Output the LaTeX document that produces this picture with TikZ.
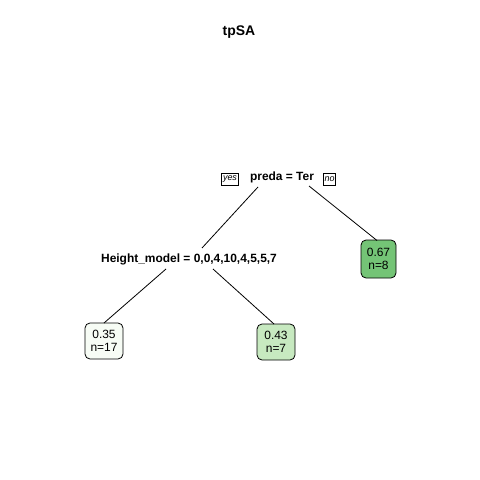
\documentclass[tikz,border=0pt]{standalone}
\usepackage{fontspec}
\setmainfont{Liberation Sans}
\definecolor{leafA}{RGB}{247,252,245}
\definecolor{leafB}{RGB}{199,233,192}
\definecolor{leafC}{RGB}{116,196,118}
\begin{document}
\begin{tikzpicture}[x=1bp,y=-1bp,line width=0.8bp,
  splitlab/.style={inner sep=0pt,font=\fontsize{12}{14}\selectfont\bfseries},
  leafbox/.style={draw,rounded corners=5bp,inner sep=0pt,align=center,
    font=\fontsize{12}{13.5}\selectfont},
  yesno/.style={draw,inner sep=1.2bp,minimum height=12bp,font=\fontsize{9}{10}\selectfont\itshape},
  branch/.style={line width=0.8bp}]
\useasboundingbox (0,0) rectangle (480,480);
\node[font=\fontsize{14}{16}\selectfont\bfseries] (title) at (239,32) {tpSA};
% root
\node[splitlab] (root) at (282,177) {preda = Ter};
\node[yesno] (yes) at (230,179.5) {yes};
\node[yesno] (no) at (329.5,179.5) {no};
% second split
\node[splitlab] (hm) at (189,259) {Height\_model = 0,0,4,10,4,5,5,7};
% leaves
\node[leafbox,fill=leafA,minimum width=38bp,minimum height=36bp] (l1) at (104,341) {0.35\\n=17};
\node[leafbox,fill=leafB,minimum width=38bp,minimum height=36bp] (l2) at (276,342) {0.43\\n=7};
\node[leafbox,fill=leafC,minimum width=35bp,minimum height=38bp] (l3) at (378.5,259) {0.67\\n=8};
% connector end points
\coordinate (rootL) at (258,187);
\coordinate (rootR) at (309,186);
\coordinate (hmTop) at (202,248);
\coordinate (l3Top) at (377,240.5);
\coordinate (hmL) at (166,269);
\coordinate (hmR) at (213,269);
\coordinate (l1Top) at (104,323);
\coordinate (l2Top) at (274,324);
\draw[branch] (rootL) -- (hmTop);
\draw[branch] (rootR) -- (l3Top);
\draw[branch] (hmL) -- (l1Top);
\draw[branch] (hmR) -- (l2Top);
\end{tikzpicture}
\end{document}
